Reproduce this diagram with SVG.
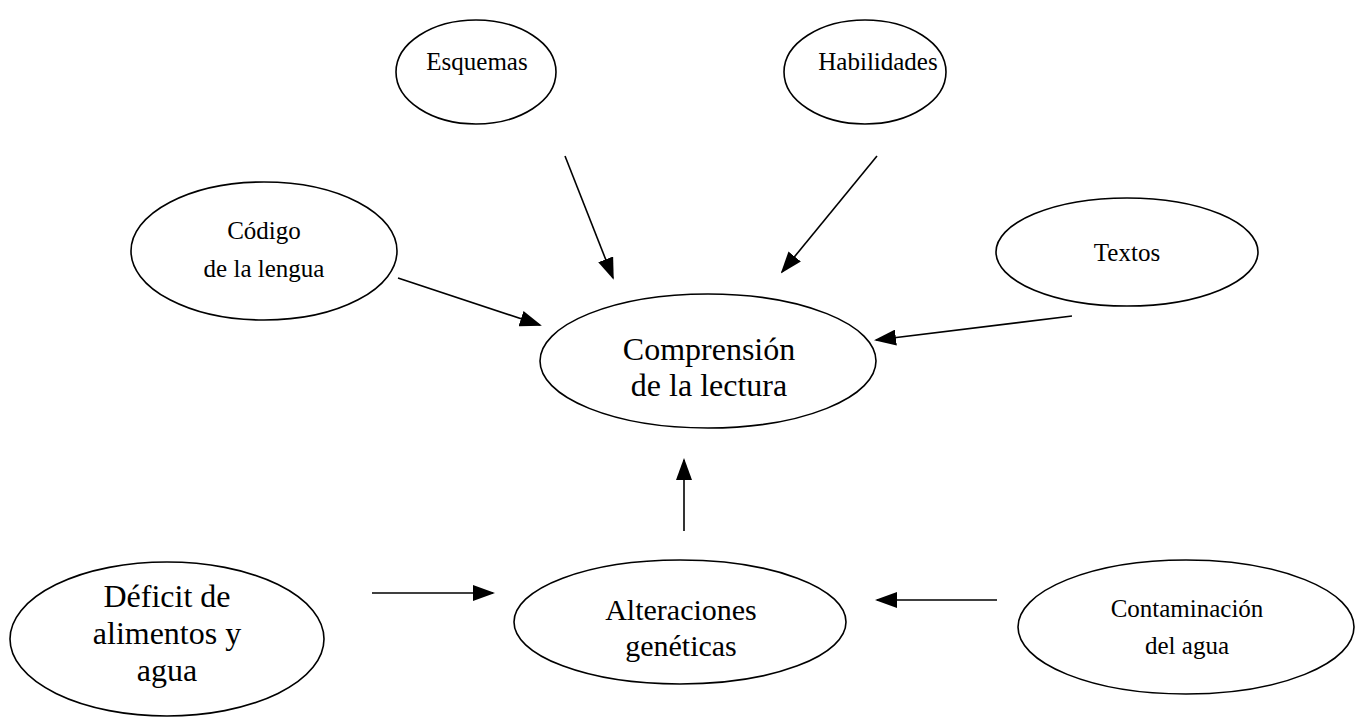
<svg xmlns="http://www.w3.org/2000/svg" width="1364" height="720" viewBox="0 0 1364 720">
<defs>
<marker id="ah" markerWidth="22" markerHeight="16" refX="20" refY="8" orient="auto" markerUnits="userSpaceOnUse">
<path d="M0,0 L22,8 L0,16 Z" fill="#000"/>
</marker>
<style>
.n{fill:#fff;stroke:#000;stroke-width:1.6}
.t{font-family:"Liberation Serif","Times New Roman",serif;font-size:25px;fill:#000;text-anchor:middle}
.b{font-size:32px}
.m{font-size:30px}
.c line{stroke:#000;stroke-width:1.6;marker-end:url(#ah)}
</style>
</defs>
<rect width="1364" height="720" fill="#fff"/>
<g id="esquemas"><ellipse class="n" cx="476" cy="72" rx="80" ry="52"/><text class="t" x="477" y="70">Esquemas</text></g>
<g id="habilidades"><ellipse class="n" cx="865" cy="72" rx="81" ry="52"/><text class="t" x="878" y="70">Habilidades</text></g>
<g id="codigo"><ellipse class="n" cx="264" cy="251" rx="133" ry="69"/><text class="t" x="264" y="239">Código</text><text class="t" x="264" y="277">de la lengua</text></g>
<g id="textos"><ellipse class="n" cx="1127" cy="252" rx="131" ry="54"/><text class="t" x="1127" y="261">Textos</text></g>
<g id="comprension"><ellipse class="n" cx="708" cy="361" rx="168" ry="67"/><text class="t b" x="709" y="360">Comprensión</text><text class="t b" x="709" y="396">de la lectura</text></g>
<g id="deficit"><ellipse class="n" cx="167" cy="639" rx="157" ry="77"/><text class="t b" x="167" y="607">Déficit de</text><text class="t b" x="167" y="644">alimentos y</text><text class="t b" x="167" y="681">agua</text></g>
<g id="alteraciones"><ellipse class="n" cx="680" cy="622" rx="166" ry="62"/><text class="t m" x="681" y="620">Alteraciones</text><text class="t m" x="681" y="656">genéticas</text></g>
<g id="contaminacion"><ellipse class="n" cx="1186" cy="627" rx="168" ry="67"/><text class="t" x="1187" y="617">Contaminación</text><text class="t" x="1187" y="654">del agua</text></g>
<g id="connectors" class="c">
<line x1="565" y1="156" x2="613" y2="278"/>
<line x1="877" y1="156" x2="782" y2="272"/>
<line x1="398" y1="278" x2="540" y2="325"/>
<line x1="1072" y1="316" x2="876" y2="340"/>
<line x1="684" y1="531" x2="684" y2="460"/>
<line x1="372" y1="593" x2="493" y2="593"/>
<line x1="997" y1="600" x2="877" y2="600"/>
</g>
</svg>
